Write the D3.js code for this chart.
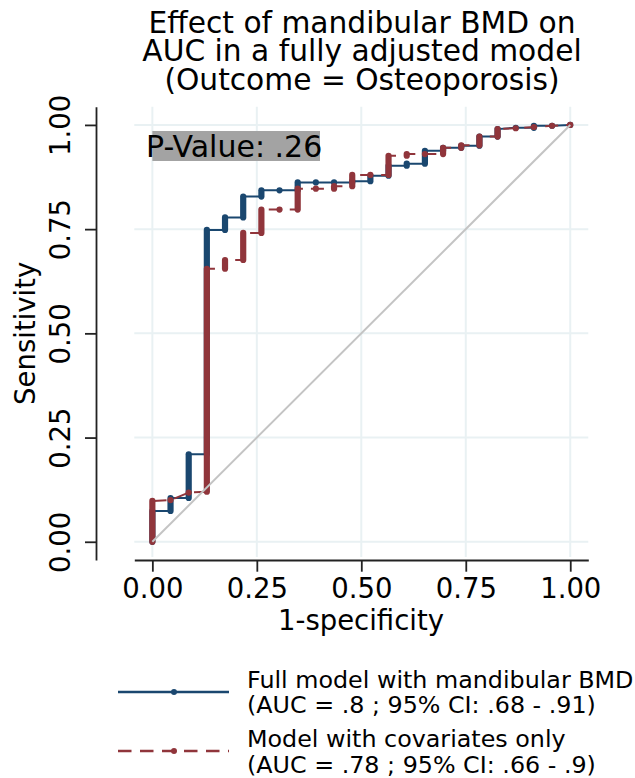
<!DOCTYPE html>
<html>
<head>
<meta charset="utf-8">
<script src="https://cdn.jsdelivr.net/npm/d3@7"></script>
<style>
  html, body { margin: 0; padding: 0; background: #fff; }
  svg { display: block; font-family: "DejaVu Sans", sans-serif; }
</style>
</head>
<body>
<svg id="chart" width="635" height="778"></svg>
<script>
// ---- data ----
const titleLines = ["Effect of mandibular BMD on", "AUC in a fully adjusted model", "(Outcome = Osteoporosis)"];
const ticks = [0, 0.25, 0.5, 0.75, 1];
// 1-specificity positions (23 controls)
const fpr = [0, .0435, .0870, .1304, .1739, .2174, .2609, .3043, .3478, .3913, .4348, .4783,
             .5217, .5652, .6087, .6522, .6957, .7391, .7826, .8261, .8696, .9130, .9565, 1];
// sensitivity points at each 1-specificity value (in path order)
const blueSens = [[0,.074],[.074,.105],[.105,.21],[.21,.748],[.748,.778],[.778,.828],[.828,.843],[.843],
                  [.843,.862],[.862],[.862],[.862,.865],[.865,.878],[.878,.902],[.902,.907],[.907,.938],
                  [.938,.945],[.945,.95],[.95,.972],[.972,.99],[.993],[.993,.998],[.998],[1]];
const redSens  = [[0,.098],[.10],[.118],[.12,.655],[.655,.676],[.676,.741],[.741,.797],[.797],
                  [.797,.847],[.847],[.847,.853],[.853,.88],[.88],[.88,.926],[.926,.93],[.93],
                  [.93,.945],[.945,.951],[.951,.972],[.972,.99],[.992],[.995],[.998],[1]];
const seriesNames = ["Full model with mandibular BMD", "Model with covariates only"];
const seriesAUC = ["(AUC = .8 ; 95% CI: .68 - .91)", "(AUC = .78 ; 95% CI: .66 - .9)"];
const pValueLabel = "P-Value: .26";

// ---- layout ----
const svg = d3.select("#chart");
const blue = "#1a476f", red = "#90353b";
const x = d3.scaleLinear().domain([-0.0432, 1.0432]).range([134.3, 588.3]);
const y = d3.scaleLinear().domain([-0.0437, 1.0437]).range([560, 106.7]);

// title (one text block, three lines)
svg.append("text")
  .attr("text-anchor", "middle").attr("font-size", 29.7).attr("fill", "#000")
  .selectAll("tspan").data(titleLines).join("tspan")
  .attr("x", 362).attr("y", (d, i) => 32.5 + i * 28.5)
  .text(d => d);

// grid
const grid = svg.append("g").attr("stroke", "#e9f1f3").attr("stroke-width", 2);
grid.selectAll(".h").data(ticks).join("line")
  .attr("x1", 134.3).attr("x2", 588.3).attr("y1", d => y(d)).attr("y2", d => y(d));
grid.selectAll(".v").data(ticks).join("line")
  .attr("y1", 106.7).attr("y2", 557).attr("x1", d => x(d)).attr("x2", d => x(d));

// axes
const fmt = d3.format(".2f");
const yAxis = svg.append("g").attr("transform", "translate(96,0)")
  .call(d3.axisLeft(y).tickValues(ticks).tickFormat(fmt).tickSize(11).tickSizeOuter(0));
yAxis.selectAll("text").attr("x", 0).attr("y", 0).attr("dy", 0)
  .attr("transform", "translate(-26,0) rotate(-90)").attr("text-anchor", "middle");
const xAxis = svg.append("g").attr("transform", "translate(0,560)")
  .call(d3.axisBottom(x).tickValues(ticks).tickFormat(fmt).tickSize(11.7).tickSizeOuter(0));
xAxis.selectAll("text").attr("y", 38.3).attr("dy", 0);
[yAxis, xAxis].forEach(a => {
  a.attr("font-family", "DejaVu Sans").attr("font-size", 27.5).attr("color", "#222");
  a.selectAll("text").attr("fill", "#000");
  a.selectAll("path, line").attr("stroke-width", 1.8);
});

// axis titles
svg.append("text").attr("transform", "translate(35,333.3) rotate(-90)")
  .attr("text-anchor", "middle").attr("font-size", 27.5).text("Sensitivity");
svg.append("text").attr("x", 361).attr("y", 630)
  .attr("text-anchor", "middle").attr("font-size", 27.5).text("1-specificity");

// ROC curves
function drawCurve(sens, color, dash) {
  const pts = [];
  sens.forEach((ys, i) => ys.forEach(v => pts.push([fpr[i], v])));
  const g = svg.append("g");
  g.append("path").datum(pts)
    .attr("d", d3.line().x(d => x(d[0])).y(d => y(d[1])))
    .attr("fill", "none").attr("stroke", color).attr("stroke-width", 2)
    .attr("stroke-dasharray", dash);
  g.selectAll("line").data(sens).join("line")
    .attr("x1", (d, i) => x(fpr[i])).attr("x2", (d, i) => x(fpr[i]))
    .attr("y1", d => y(d3.min(d))).attr("y2", d => y(d3.max(d)))
    .attr("stroke", color).attr("stroke-width", 6.2).attr("stroke-linecap", "round");
}
drawCurve(blueSens, blue, null);
drawCurve(redSens, red, "13,8");

// reference diagonal
svg.append("line").attr("x1", x(0)).attr("y1", y(0)).attr("x2", x(1)).attr("y2", y(1))
  .attr("stroke", "#c4c4c4").attr("stroke-width", 2);

// p-value label
svg.append("rect").attr("x", x(0)).attr("y", 131).attr("width", 320 - x(0)).attr("height", 30)
  .attr("fill", "#a3a3a3");
svg.append("text").attr("x", 146).attr("y", 156.5).attr("font-size", 30).attr("fill", "#000")
  .text(pValueLabel);

// legend
const leg = svg.append("g");
const legY = [692, 751], textY = [688, 747.3];
[blue, red].forEach((c, i) => {
  leg.append("line").attr("x1", 118).attr("x2", 229).attr("y1", legY[i]).attr("y2", legY[i])
    .attr("stroke", c).attr("stroke-width", 2.4)
    .attr("stroke-dasharray", i === 1 ? "13.5,8.5" : null);
  leg.append("circle").attr("cx", 174).attr("cy", legY[i]).attr("r", 3).attr("fill", c);
  leg.append("text").attr("x", 247).attr("y", textY[i]).attr("font-size", 23.8).text(seriesNames[i]);
  leg.append("text").attr("x", 247).attr("y", textY[i] + 25.3).attr("font-size", 23.8).text(seriesAUC[i]);
});
</script>
</body>
</html>
